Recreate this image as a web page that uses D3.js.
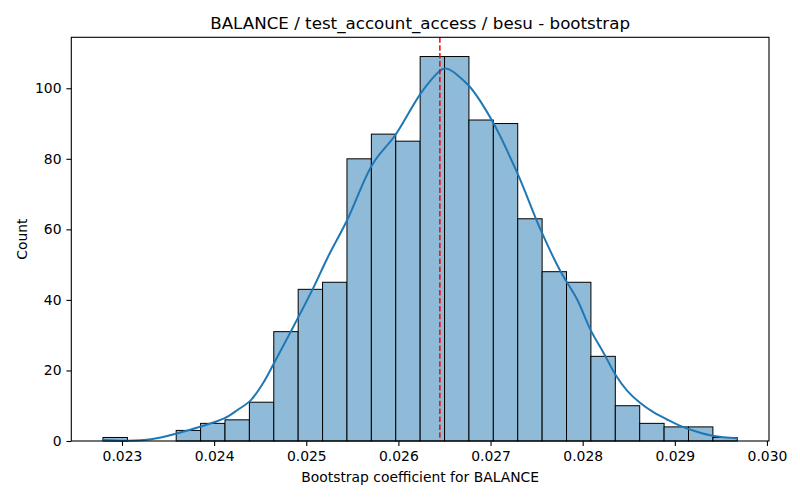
<!DOCTYPE html>
<html>
<head>
<meta charset="utf-8">
<script src="https://cdn.jsdelivr.net/npm/d3@7"></script>
<style>
  body { margin: 0; background: #fff; }
  svg { font-family: "DejaVu Sans", sans-serif; }
</style>
</head>
<body>
<svg id="chart" width="800" height="500"></svg>
<script>
// ---- data ----
const binStart = 0.022794;
const binWidth = 0.00026477;
const binCounts = [1, 0, 0, 3, 5, 6, 11, 31, 43, 45, 80, 87, 85, 109, 109, 91, 90, 63, 48, 45, 24, 10, 5, 4, 4, 1];
const kdeX = [0.022791, 0.023062, 0.023314, 0.023604, 0.023856, 0.024109, 0.024254, 0.024399, 0.024543, 0.024651,
              0.024832, 0.025067, 0.025230, 0.025447, 0.025718, 0.025971, 0.026260, 0.026477, 0.026534, 0.026765,
              0.027019, 0.027290, 0.027543, 0.027759, 0.027940, 0.028085, 0.028229, 0.028356, 0.028482, 0.028619,
              0.028771, 0.028916, 0.029060, 0.029241, 0.029421, 0.029675];
const kdeY = [0.3, 0.1, 0.5, 2.2, 4.1, 6.4, 8.8, 11.6, 16.9, 22.1,
              31.0, 42.9, 51.9, 62.8, 78.4, 86.9, 99.2, 105.4, 105.5, 100.7,
              90.7, 76.0, 59.9, 48.1, 40.1, 31.5, 24.9, 18.8, 14.3, 10.9,
              8.1, 6.1, 4.3, 2.6, 1.4, 0.8];
const meanValue = 0.02645;
const xTicks = [0.023, 0.024, 0.025, 0.026, 0.027, 0.028, 0.029, 0.030];
const yTicks = [0, 20, 40, 60, 80, 100];
const titleText = "BALANCE / test_account_access / besu - bootstrap";
const xLabel = "Bootstrap coefficient for BALANCE";
const yLabel = "Count";

// ---- layout ----
const W = 800, H = 500;
const m = { left: 71.3, right: 31, top: 37.3, bottom: 59 };
const svg = d3.select("#chart");

const binEnd = binStart + binWidth * binCounts.length;
const pad = (binEnd - binStart) * 0.05;
const x = d3.scaleLinear().domain([binStart - pad, binEnd + pad]).range([m.left, W - m.right]);
const yMax = d3.max(binCounts) * 1.05;
const y = d3.scaleLinear().domain([0, yMax]).range([H - m.bottom, m.top]);

const bins = binCounts.map((c, i) => ({ x0: binStart + i * binWidth, x1: binStart + (i + 1) * binWidth, c }));

// bars
svg.append("g").selectAll("rect").data(bins.filter(b => b.c > 0)).join("rect")
  .attr("x", d => x(d.x0))
  .attr("width", d => x(d.x1) - x(d.x0))
  .attr("y", d => y(d.c))
  .attr("height", d => y(0) - y(d.c))
  .attr("fill", "#8fbbd9")
  .attr("stroke", "#000")
  .attr("stroke-width", 1);

// kde
const kde = kdeX.map((v, i) => [v, kdeY[i]]);
svg.append("path")
  .datum(kde)
  .attr("fill", "none")
  .attr("stroke", "#1f77b4")
  .attr("stroke-width", 2)
  .attr("stroke-linecap", "round")
  .attr("d", d3.line().x(d => x(d[0])).y(d => y(d[1])).curve(d3.curveCatmullRom.alpha(0.5)));

// mean line
svg.append("line")
  .attr("x1", x(meanValue)).attr("x2", x(meanValue))
  .attr("y1", m.top).attr("y2", H - m.bottom)
  .attr("stroke", "red")
  .attr("stroke-width", 1.5)
  .attr("stroke-dasharray", "5.5,2.4");

// axes
const xAxis = d3.axisBottom(x).tickValues(xTicks).tickFormat(d3.format(".3f")).tickSize(4.9).tickPadding(4.9);
const yAxis = d3.axisLeft(y).tickValues(yTicks).tickFormat(d3.format("d")).tickSize(4.9).tickPadding(4.9);

const gx = svg.append("g").attr("transform", `translate(0,${H - m.bottom})`).call(xAxis);
const gy = svg.append("g").attr("transform", `translate(${m.left},0)`).call(yAxis);
[gx, gy].forEach(g => {
  g.select(".domain").remove();
  g.selectAll("text").attr("font-size", 13.9).attr("fill", "#000").attr("font-family", "DejaVu Sans");
  g.selectAll("line").attr("stroke", "#000").attr("stroke-width", 1.1);
});

// frame
svg.append("rect")
  .attr("x", m.left).attr("y", m.top)
  .attr("width", W - m.left - m.right).attr("height", H - m.top - m.bottom)
  .attr("fill", "none").attr("stroke", "#000").attr("stroke-width", 1.1);

// labels
svg.append("text").attr("x", (m.left + W - m.right) / 2).attr("y", 29)
  .attr("text-anchor", "middle").attr("font-size", 16.7).attr("fill", "#000").text(titleText);
svg.append("text").attr("x", (m.left + W - m.right) / 2).attr("y", 482)
  .attr("text-anchor", "middle").attr("font-size", 13.9).attr("fill", "#000").text(xLabel);
svg.append("text")
  .attr("transform", `translate(27,${(m.top + H - m.bottom) / 2}) rotate(-90)`)
  .attr("text-anchor", "middle").attr("font-size", 13.9).attr("fill", "#000").text(yLabel);
</script>
</body>
</html>
